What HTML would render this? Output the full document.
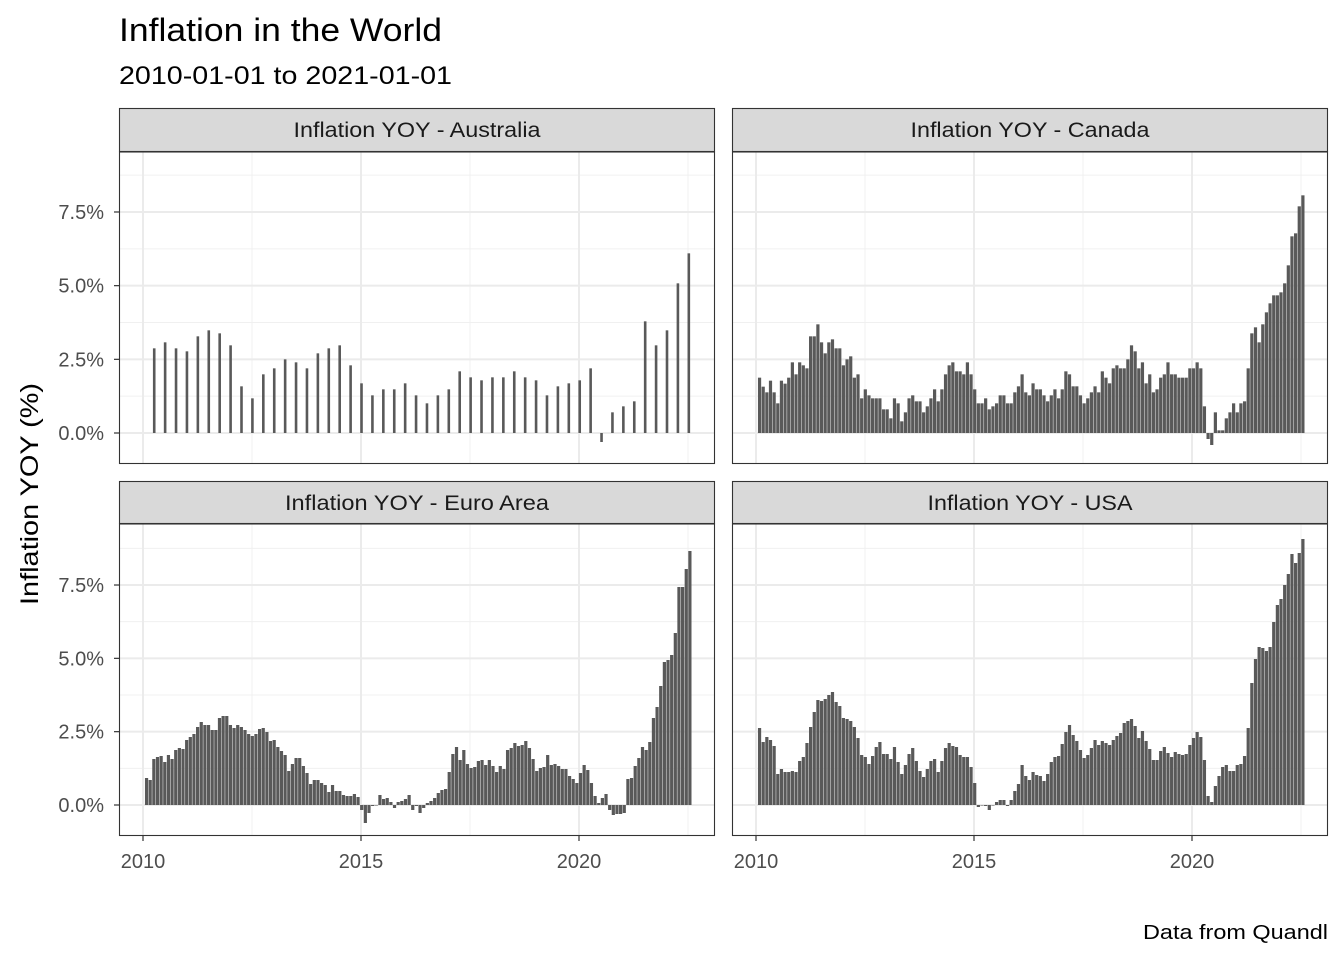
<!DOCTYPE html>
<html><head><meta charset="utf-8"><style>
body{margin:0;background:#fff}
svg{display:block;font-family:"Liberation Sans",sans-serif}
</style></head><body>
<svg id="s" width="1344" height="960" viewBox="0 0 1344 960" xmlns="http://www.w3.org/2000/svg">
<rect width="1344" height="960" fill="#fff"/>
<text x="119" y="41" font-size="32" fill="#000" textLength="323" lengthAdjust="spacingAndGlyphs">Inflation in the World</text>
<text x="119" y="84" font-size="25" fill="#000" textLength="333" lengthAdjust="spacingAndGlyphs">2010-01-01 to 2021-01-01</text>
<text x="1143" y="939" font-size="20" fill="#000" textLength="185" lengthAdjust="spacingAndGlyphs">Data from Quandl</text>
<text transform="translate(38,494) rotate(-90)" font-size="25" text-anchor="middle" fill="#000" textLength="222" lengthAdjust="spacingAndGlyphs">Inflation YOY (%)</text>
<g id="g"></g>
</svg>
<script>
var NS="http://www.w3.org/2000/svg",G=document.getElementById('g');
function el(t,a,txt){var e=document.createElementNS(NS,t);for(var k in a)e.setAttribute(k,a[k]);if(txt)e.textContent=txt;G.appendChild(e);return e;}
var panels=[
 {x0:119,x1:715,sy:108,py:152,pb:464,z:433,s:73.67,title:"Inflation YOY - Australia",tl:247,crop:240,zz:578,xlab:false,ylab:true},
 {x0:732,x1:1328,sy:108,py:152,pb:464,z:433,s:73.67,title:"Inflation YOY - Canada",tl:239,crop:190,zz:728,xlab:false,ylab:false},
 {x0:119,x1:715,sy:481,py:524,pb:836,z:805,s:73.33,title:"Inflation YOY - Euro Area",tl:264,crop:540,zz:795,xlab:true,ylab:true},
 {x0:732,x1:1328,sy:481,py:524,pb:836,z:805,s:73.33,title:"Inflation YOY - USA",tl:205,crop:530,zz:825,xlab:true,ylab:false}
];
var AU=[324,306,324,333,288,270,279,315,438,474,402,384,357,366,384,339,324,315,375,429,465,447,447,429,465,489,465,447,393,411,420,411,411,393,411,420,465,438,429,420,384,605,516,498,483,243,315,270,129,39];
var CA=[562,589,606,571,606,639,571,580,562,516,552,516,525,534,438,438,402,456,489,456,447,474,474,525,507,498,562,552,624,597,615,624,624,624,657,657,684,624,639,693,666,624,615,633,633,666,648,624,597,633,597,552,525,516,543,543,552,516,552,597,639,639,624,657,648,639,615,615,639,639,606,588,552,606,615,579,597,597,615,633,615,597,624,597,543,552,588,588,615,639,624,606,588,606,543,562,579,534,525,534,534,507,465,483,534,516,579,552,606,597,562,552,516,552,552,562,562,562,534,534,516,534,648,746,764,666,720,720,684,666,639,666,639,633,534,429,411,456,402,366,339,315,315,306,279,225,138,129,48,15];
var EU=[714,720,657,651,648,666,645,657,630,624,627,600,591,582,561,546,555,555,570,570,534,528,528,555,564,555,561,570,582,588,582,567,564,576,603,600,621,633,645,693,672,654,654,678,699,732,720,720,729,735,756,735,753,753,765,768,768,762,771,810,849,819,798,795,765,777,774,786,804,786,783,777,765,810,798,819,804,789,783,774,759,750,747,696,642,621,660,630,672,684,681,663,660,675,660,678,696,678,687,630,624,609,618,615,603,624,657,693,684,681,645,675,672,678,687,687,708,717,729,699,675,690,729,768,789,774,762,810,825,822,822,819,717,714,678,654,621,630,606,534,501,438,366,360,345,279,141,141,87,33];
var US=[594,636,621,630,648,732,717,726,726,723,726,693,681,639,591,546,510,513,507,495,486,516,528,564,567,573,591,624,675,681,702,678,651,636,672,672,687,651,696,732,705,672,654,693,723,741,717,693,687,726,693,654,639,648,651,675,681,681,711,759,831,825,828,840,825,816,810,810,828,810,783,762,705,738,750,726,735,738,753,732,696,681,678,642,606,585,615,633,660,684,675,654,630,645,633,639,645,630,618,609,579,573,567,588,624,603,633,657,690,690,663,651,669,681,666,672,675,672,645,624,606,621,690,798,816,768,738,711,705,723,723,705,702,678,594,459,387,351,354,363,351,276,225,207,165,132,72,99,69,27];
var data=[AU,CA,EU,US],K=2.63,KV=3;
panels.forEach(function(p,pi){
  el('rect',{x:p.x0,y:p.py,width:p.x1-p.x0,height:p.pb-p.py,fill:'#fff'});
  var x2010=p.x0+24,yr=43.6;
  [-0.5,0.5,1.5,2.5,3.5].forEach(function(m){var y=p.z-m*p.s;if(y>p.py&&y<p.pb)el('line',{x1:p.x0,x2:p.x1,y1:y,y2:y,stroke:'#f0f0f0','stroke-width':1});});
  [2.5,7.5,12.5].forEach(function(m){var x=x2010+m*yr;el('line',{x1:x,x2:x,y1:p.py,y2:p.pb,stroke:'#f0f0f0','stroke-width':1});});
  [0,1,2,3].forEach(function(m){var y=p.z-m*p.s;el('line',{x1:p.x0,x2:p.x1,y1:y,y2:y,stroke:'#ebebeb','stroke-width':2});
    if(p.ylab){el('text',{x:p.x0-15,y:y+7,'font-size':20,fill:'#4d4d4d','text-anchor':'end'},(m*2.5).toFixed(1)+'%');el('line',{x1:p.x0-5,x2:p.x0,y1:y,y2:y,stroke:'#333','stroke-width':1.2});}});
  [0,5,10].forEach(function(m){var x=x2010+m*yr;el('line',{x1:x,x2:x,y1:p.py,y2:p.pb,stroke:'#ebebeb','stroke-width':2});
    if(p.xlab){el('line',{x1:x,x2:x,y1:p.pb,y2:p.pb+5,stroke:'#333','stroke-width':1.2});el('text',{x:x,y:p.pb+32,'font-size':20,fill:'#4d4d4d','text-anchor':'middle'},String(2010+m));}});
  var d=data[pi],n=d.length,first,last,w;
  if(pi==0){first=p.x0+90/K+1;last=p.x0+1496/K+1;w=2.6;}else{first=p.x0+68/K+1.7;last=p.x0+1497/K+1.7;w=3.2;}
  var zero=p.crop+p.zz/KV;
  for(var i=0;i<n;i++){var cx=first+(last-first)*i/(n-1);var yt=p.crop+d[i]/KV;
    var y0=Math.min(yt,zero),y1=Math.max(yt,zero);var zy=p.z+(y0-zero),zb=p.z+(y1-zero);
    el('rect',{x:cx-w/2,y:zy,width:w,height:Math.max(zb-zy,0.5),fill:'#595959'});}
  el('rect',{x:p.x0+0.5,y:p.py,width:p.x1-p.x0-1,height:p.pb-p.py-0.5,fill:'none',stroke:'#333','stroke-width':1.1});
  el('rect',{x:p.x0+0.5,y:p.sy+0.5,width:p.x1-p.x0-1,height:p.py-p.sy-1,fill:'#d9d9d9',stroke:'#333','stroke-width':1.1});
  el('text',{x:(p.x0+p.x1)/2,y:p.sy+29,'font-size':21,fill:'#1a1a1a','text-anchor':'middle',textLength:p.tl,lengthAdjust:'spacingAndGlyphs'},p.title);
});
</script>
</body></html>
